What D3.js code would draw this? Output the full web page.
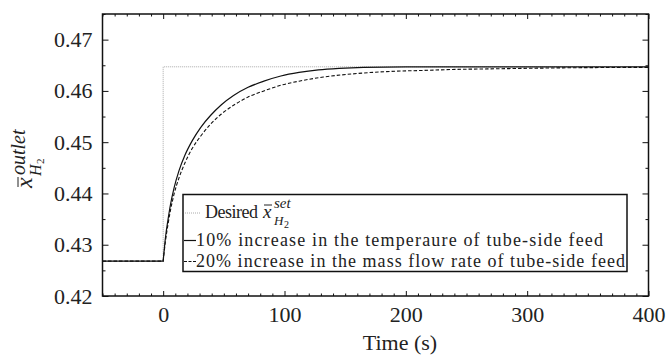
<!DOCTYPE html>
<html><head><meta charset="utf-8">
<script src="https://cdn.jsdelivr.net/npm/d3@7"></script>
<style>
@font-face { font-family: "SerifX"; src: local("Liberation Serif"), local("LiberationSerif"), local("LiberationSerif-Regular"), local("Times New Roman"); font-style: normal; }
@font-face { font-family: "SerifX"; src: local("Liberation Serif Italic"), local("LiberationSerif-Italic"), local("Times New Roman Italic"); font-style: italic; }
html,body{margin:0;padding:0;background:#fff;}
svg{display:block;}
</style>
</head>
<body><svg id="c" width="666" height="355"></svg>
<script>
// ---- data ----
const xTicks = [0, 100, 200, 300, 400];
const yTicks = [0.42, 0.43, 0.44, 0.45, 0.46, 0.47];
const yTickLabels = ["0.42", "0.43", "0.44", "0.45", "0.46", "0.47"];
const initialValue = 0.4268;
const setpointValue = 0.4647;
const setpointTime = [-50, 0, 0, 400];
const setpointVals = [initialValue, initialValue, setpointValue, setpointValue];
const solidTime = [0, 2, 4, 6, 9, 13, 18, 24, 31, 39, 48, 58, 70, 83, 97, 112, 128, 145, 165, 200, 250, 300, 400];
const solidVals = [0.4268, 0.4316, 0.4349, 0.4378, 0.4411, 0.4444, 0.4475, 0.4503, 0.4529, 0.4552, 0.4573, 0.4591, 0.4607, 0.4619, 0.4629, 0.4636, 0.4641, 0.4644, 0.4646, 0.4647, 0.4647, 0.4647, 0.4647];
const dashTime = [0, 2, 4, 6, 9, 13, 18, 24, 31, 39, 48, 58, 70, 83, 97, 112, 132, 160, 187, 215, 242, 270, 330, 400];
const dashVals = [0.4268, 0.4309, 0.4340, 0.4367, 0.4399, 0.4430, 0.4460, 0.4488, 0.4512, 0.4535, 0.4555, 0.4572, 0.4588, 0.4600, 0.4611, 0.4619, 0.4627, 0.4634, 0.4638, 0.4640, 0.4642, 0.4643, 0.4645, 0.4646];
const legendRows = ["10% increase in the temperaure of tube-side feed", "20% increase in the mass flow rate of tube-side feed"];

// ---- layout ----
const svg = d3.select("#c");
const L = 102.5, R = 648.5, T = 14, B = 296;
const x = d3.scaleLinear().domain([-50, 400]).range([L, R]);
const y = d3.scaleLinear().domain([0.42, 0.475]).range([B, T]);
const FONT = '"Times New Roman", "Liberation Serif", SerifX, Tinos, FreeSerif, serif';

const line = d3.line().x(d => x(d[0])).y(d => y(d[1]));
const smooth = d3.line().x(d => x(d[0])).y(d => y(d[1])).curve(d3.curveMonotoneX);

svg.append("path").datum(setpointTime.map((t, i) => [t, setpointVals[i]]))
  .attr("d", line).attr("fill", "none").attr("stroke", "#aaa").attr("stroke-width", 1).attr("stroke-dasharray", "1,1");

const dashPts = dashTime.map((t, i) => [t, dashVals[i]]);
svg.append("path").attr("d", line([[-50, initialValue], [0, initialValue]]) + smooth(dashPts).replace(/^M/, "L"))
  .attr("fill", "none").attr("stroke", "#111").attr("stroke-width", 1.1).attr("stroke-dasharray", "3.5,2");
const solidPts = solidTime.map((t, i) => [t, solidVals[i]]);
svg.append("path").attr("d", line([[-50, initialValue], [0, initialValue]]) + smooth(solidPts).replace(/^M/, "L"))
  .attr("fill", "none").attr("stroke", "#111").attr("stroke-width", 1.2);

const minorX = d3.range(-50, 401, 10).filter(v => v % 100 !== 0);
const minorY = [0.425, 0.435, 0.445, 0.455, 0.465, 0.475];
function styleAxis(g) {
  g.attr("font-family", null).attr("font-size", null);
  g.select(".domain").remove();
  g.selectAll("line").attr("stroke", "#111").attr("stroke-width", 1);
}
function txt(sel, size, italic) {
  return sel.style("font-family", FONT).style("font-size", size + "px")
    .style("font-style", italic ? "italic" : "normal").style("fill", "#222");
}

svg.append("g").attr("transform", `translate(0,${B})`)
  .call(d3.axisBottom(x).tickValues(xTicks).tickSize(-5).tickPadding(10).tickFormat(d3.format("d")))
  .call(styleAxis)
  .call(g => txt(g.selectAll("text"), 22).attr("dy", "0.71em"));
svg.append("g").attr("transform", `translate(0,${B})`)
  .call(d3.axisBottom(x).tickValues(minorX).tickSize(-2.5).tickFormat("")).call(styleAxis);
svg.append("g").attr("transform", `translate(0,${T})`)
  .call(d3.axisTop(x).tickValues(xTicks).tickSize(-5).tickFormat("")).call(styleAxis);
svg.append("g").attr("transform", `translate(0,${T})`)
  .call(d3.axisTop(x).tickValues(minorX).tickSize(-2.5).tickFormat("")).call(styleAxis);

svg.append("g").attr("transform", `translate(${L},0)`)
  .call(d3.axisLeft(y).tickValues(yTicks).tickSize(-6).tickPadding(10).tickFormat((d, i) => yTickLabels[i]))
  .call(styleAxis)
  .call(g => txt(g.selectAll("text"), 22));
svg.append("g").attr("transform", `translate(${L},0)`)
  .call(d3.axisLeft(y).tickValues(minorY).tickSize(-3).tickFormat("")).call(styleAxis);
svg.append("g").attr("transform", `translate(${R},0)`)
  .call(d3.axisRight(y).tickValues(yTicks).tickSize(-6).tickFormat("")).call(styleAxis);
svg.append("g").attr("transform", `translate(${R},0)`)
  .call(d3.axisRight(y).tickValues(minorY).tickSize(-3).tickFormat("")).call(styleAxis);

svg.append("rect").attr("x", L).attr("y", T).attr("width", R - L).attr("height", B - T)
  .attr("fill", "none").attr("stroke", "#111").attr("stroke-width", 1.5);

txt(svg.append("text").attr("x", 400).attr("y", 350).attr("text-anchor", "middle"), 22).text("Time (s)");
const yl = svg.append("g").attr("transform", "translate(32,188) rotate(-90)");
txt(yl.append("text").attr("x", 0).attr("y", 0), 24, true).text("x");
yl.append("line").attr("x1", 1).attr("x2", 11).attr("y1", -14).attr("y2", -14).attr("stroke", "#222").attr("stroke-width", 1);
txt(yl.append("text").attr("x", 13).attr("y", -7), 20, true).text("outlet");
txt(yl.append("text").attr("x", 12).attr("y", 9), 16, true).text("H");
txt(yl.append("text").attr("x", 24).attr("y", 12), 11).text("2");

const lg = svg.append("g");
lg.append("rect").attr("x", 183).attr("y", 194.5).attr("width", 444).attr("height", 77)
  .attr("fill", "#fff").attr("stroke", "#111").attr("stroke-width", 1.5);
lg.append("line").attr("x1", 185).attr("x2", 200).attr("y1", 213).attr("y2", 213).attr("stroke", "#aaa").attr("stroke-dasharray", "1,1");
txt(lg.append("text").attr("x", 205).attr("y", 218).attr("textLength", 53), 18).text("Desired");
txt(lg.append("text").attr("x", 263).attr("y", 218), 19, true).text("x");
lg.append("line").attr("x1", 264).attr("x2", 272).attr("y1", 205).attr("y2", 205).attr("stroke", "#222").attr("stroke-width", 1);
txt(lg.append("text").attr("x", 274).attr("y", 208), 15, true).text("set");
txt(lg.append("text").attr("x", 274).attr("y", 225), 13, true).text("H");
txt(lg.append("text").attr("x", 284).attr("y", 228), 10).text("2");
lg.append("line").attr("x1", 184).attr("x2", 196).attr("y1", 240.5).attr("y2", 240.5).attr("stroke", "#111").attr("stroke-width", 1.2);
txt(lg.append("text").attr("x", 196).attr("y", 246).attr("textLength", 407).attr("lengthAdjust", "spacing"), 18).text(legendRows[0]);
lg.append("line").attr("x1", 184).attr("x2", 196).attr("y1", 261.5).attr("y2", 261.5).attr("stroke", "#111").attr("stroke-width", 1.1).attr("stroke-dasharray", "3,1.5");
txt(lg.append("text").attr("x", 196).attr("y", 267).attr("textLength", 429).attr("lengthAdjust", "spacing"), 18).text(legendRows[1]);
</script></body></html>
